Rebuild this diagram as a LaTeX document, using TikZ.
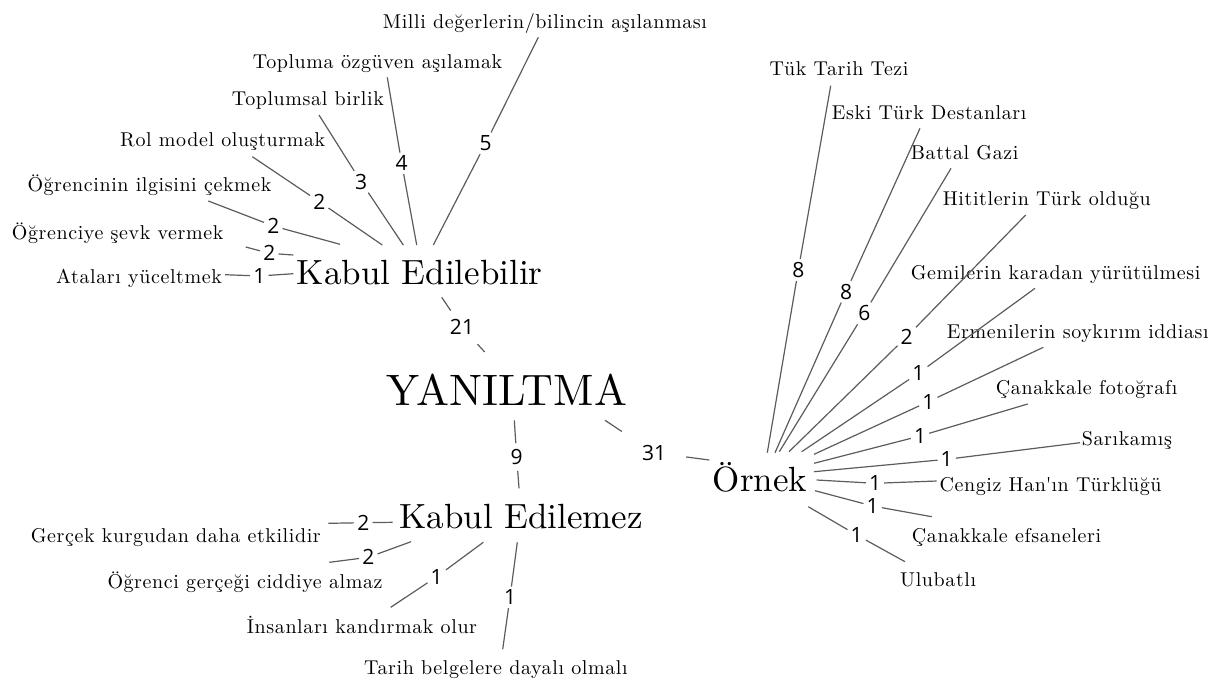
\documentclass[tikz,border=0pt]{standalone}
\usepackage{fontspec}
\setmainfont{lmroman10-regular.otf}
\newfontfamily\leaffont{lmroman10-regular.otf}[LetterSpace=3]
\newfontfamily\numfont{Open Sans}

% one weighted link: hub-side end, count label, leaf-side end
\newcommand\wlink[6]{%
  \coordinate (#1-s) at #2;
  \node[count,#6] (#1-n) at #3 {#5};
  \coordinate (#1-e) at #4;
  \draw[link] (#1-s) -- (#1-n) -- (#1-e);}

\begin{document}
\begin{tikzpicture}[x=1pt,y=-1pt,
  leaf/.style={anchor=base west, inner sep=0pt, text=black,
    font=\leaffont\fontsize{20}{20}\selectfont},
  hub/.style={anchor=base west, inner sep=0pt, text=black,
    font=\fontsize{35}{35}\selectfont},
  root/.style={anchor=base west, inner sep=0pt, text=black,
    font=\fontsize{44}{44}\selectfont},
  count/.style={font=\numfont\fontsize{21}{21}\selectfont, inner sep=3pt, text=black},
  link/.style={draw=black!64, line width=1.2pt}]
\useasboundingbox (0,0) rectangle (1225,681);

% main concept and its three branches
\node[root] (yan) at (386.7,405) {YANILTMA};
\node[hub] (kab) at (296.7,284.3) {Kabul Edilebilir};
\node[hub] (ked) at (399.3,528.3) {Kabul Edilemez};
\node[hub] (orn) at (712.7,491.7) {Örnek};

\wlink{c21}{(441.7,297.3)}{(462,327.3)}{(484.7,352)}{21}{inner sep=9pt}
\wlink{c9}{(514.3,420.3)}{(516.7,457)}{(519,488.3)}{9}{inner sep=6pt}
\wlink{c31}{(605,420.3)}{(654,452.7)}{(709.3,460)}{31}{inner sep=20pt}

% Kabul Edilebilir
\node[leaf] (k1) at (56,283.3) {Ataları yüceltmek};
\node[leaf] (k2) at (11.7,239.3) {Öğrenciye şevk vermek};
\node[leaf] (k3) at (27.3,191) {Öğrencinin ilgisini çekmek};
\node[leaf] (k4) at (120,146.7) {Rol model oluşturmak};
\node[leaf] (k5) at (231.7,105) {Toplumsal birlik};
\node[leaf] (k6) at (252.7,68.3) {Topluma özgüven aşılamak};
\node[leaf] (k7) at (382.7,28.3) {Milli değerlerin/bilincin aşılanması};

\wlink{kl1}{(293.3,273.7)}{(259.3,276)}{(225,274.7)}{1}{}
\wlink{kl2}{(293.3,255)}{(269.3,253.3)}{(245.7,247)}{2}{}
\wlink{kl3}{(340,244.3)}{(273.3,226)}{(208.3,201)}{2}{}
\wlink{kl4}{(382.3,245)}{(319.3,201.7)}{(252.3,156.7)}{2}{}
\wlink{kl5}{(403.3,245)}{(361,181.7)}{(319,115)}{3}{}
\wlink{kl6}{(416.7,245)}{(401.7,163.3)}{(387.3,77.3)}{4}{}
\wlink{kl7}{(433.3,245)}{(485.7,143.3)}{(538.3,37.3)}{5}{}

% Kabul Edilemez
\node[leaf] (e1) at (30.7,542.3) {Gerçek kurgudan daha etkilidir};
\node[leaf] (e2) at (107.3,588.3) {Öğrenci gerçeği ciddiye almaz};
\node[leaf] (e3) at (246.7,633.3) {İnsanları kandırmak olur};
\node[leaf] (e4) at (364,674.3) {Tarih belgelere dayalı olmalı};

\wlink{el1}{(392.7,522.3)}{(363.3,522.7)}{(328.3,523.3)}{2}{}
\wlink{el2}{(411,541.7)}{(368.3,557.3)}{(329.3,562.3)}{2}{}
\wlink{el3}{(483.3,542.3)}{(436.7,576.7)}{(390.7,607.3)}{1}{}
\wlink{el4}{(517.3,542.3)}{(510,597.3)}{(502.7,649.3)}{1}{}

% Örnek
\node[leaf] (o1) at (769.3,75.7) {Tük Tarih Tezi};
\node[leaf] (o2) at (831.7,119.3) {Eski Türk Destanları};
\node[leaf] (o3) at (910.7,159) {Battal Gazi};
\node[leaf] (o4) at (942.7,205.7) {Hititlerin Türk olduğu};
\node[leaf] (o5) at (910.7,279.3) {Gemilerin karadan yürütülmesi};
\node[leaf] (o6) at (946.7,338.3) {Ermenilerin soykırım iddiası};
\node[leaf] (o7) at (995.7,394) {Çanakkale fotoğrafı};
\node[leaf] (o8) at (1081.7,445) {Sarıkamış};
\node[leaf] (o9) at (939.3,491) {Cengiz Han\textquotesingle ın Türklüğü};
\node[leaf] (o10) at (911.7,542.7) {Çanakkale efsaneleri};
\node[leaf] (o11) at (900,586) {Ulubatlı};

\wlink{ol1}{(767.3,452.7)}{(798.3,270)}{(830.7,85.7)}{8}{}
\wlink{ol2}{(775,452.7)}{(846,291.7)}{(920,128.3)}{8}{}
\wlink{ol3}{(779.3,451.7)}{(864.3,313.3)}{(951,168.3)}{6}{}
\wlink{ol4}{(789,451.7)}{(906.7,336.7)}{(1025.7,215)}{2}{}
\wlink{ol5}{(801.7,451.7)}{(918.3,373.3)}{(1035,288.3)}{1}{}
\wlink{ol6}{(814,454.3)}{(928.3,401.7)}{(1043.3,347.3)}{1}{}
\wlink{ol7}{(814,463.3)}{(920,436)}{(1027.7,404)}{1}{}
\wlink{ol8}{(814,471.7)}{(946.7,459.3)}{(1080,442.7)}{1}{}
\wlink{ol9}{(816.7,480)}{(875,483.3)}{(936.7,481)}{1}{}
\wlink{ol10}{(815,490.7)}{(872.7,506)}{(931.7,516.7)}{1}{}
\wlink{ol11}{(808.3,506.7)}{(856.7,535)}{(905,561.7)}{1}{}
\end{tikzpicture}
\end{document}
